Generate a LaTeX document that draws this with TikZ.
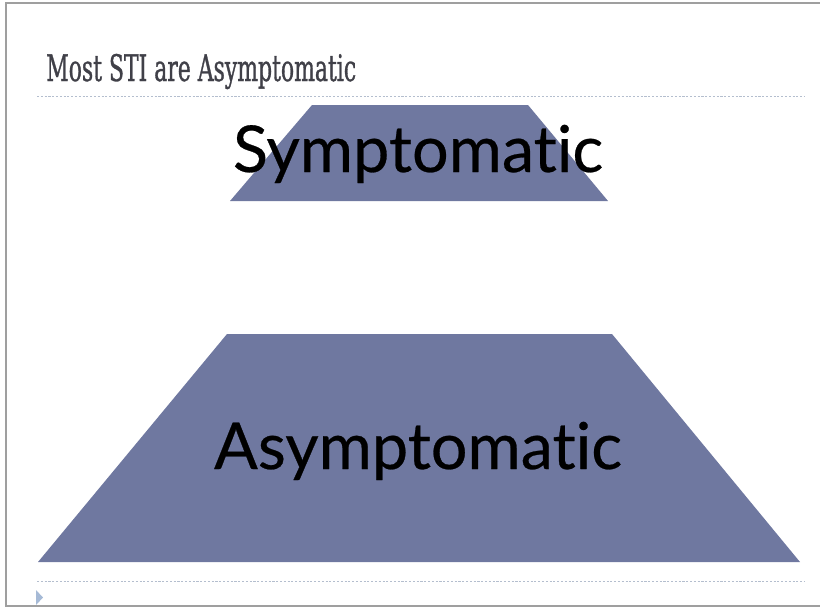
\documentclass[tikz,border=0pt]{standalone}
\usepackage{fontspec}
\newfontfamily\titlefont[FakeStretch=0.6, FakeBold=0.8]{DejaVu Serif}
\newfontfamily\levelfont[Ligatures=NoCommon, FakeBold=0.4]{Lato}
\usetikzlibrary{positioning}
\definecolor{levelblue}{HTML}{6F78A0}
\definecolor{ruleblue}{HTML}{B4BECE}
\definecolor{bulletblue}{HTML}{A6BAD6}
\definecolor{titlegray}{HTML}{404048}
\tikzset{
level/.style={
  fill=levelblue,
  draw=none
  }
}
\tikzset{
label/.style={
  font=\levelfont\fontsize{46}{50}\selectfont,
  text=black,
  inner sep=0pt,
  anchor=base
  }
}
\tikzstyle{rule} = [draw=ruleblue,line width=0.6pt,dash pattern=on 1.5pt off 1.2pt]
\tikzset{%
    boundingBox/.style={use as bounding box},
    }

\begin{document}
\begin{tikzpicture}[x=0.025cm, y=-0.025cm]
        \path[boundingBox] (0,0) rectangle (820,608);
	%frame
	\draw[gray!75, line width=1.4pt] (820,3) -- (6,3) -- (6,606) -- (820,606);

	%title
	\node (title) at (46,81) [anchor=base west, inner sep=0pt, text=titlegray,
	  font=\titlefont\fontsize{26}{28}\selectfont] {Most STI are Asymptomatic};
	\draw[rule] (37,96) -- (804,96);
	\draw[rule] (37,581) -- (804,581);

	%levels
	\fill[level] (230,201) -- (312,105) -- (528,105) -- (608,201) -- cycle;
	\fill[level] (38,562) -- (227,334) -- (612,334) -- (800,562) -- cycle;

	\node (top) at (418,172) [label] {Symptomatic};
	\node (bottom) at (418,469) [label] {Asymptomatic};

	%bullet
	\fill[bulletblue] (36,590) -- (43,597.5) -- (36,605) -- cycle;
\end{tikzpicture}
\end{document}
